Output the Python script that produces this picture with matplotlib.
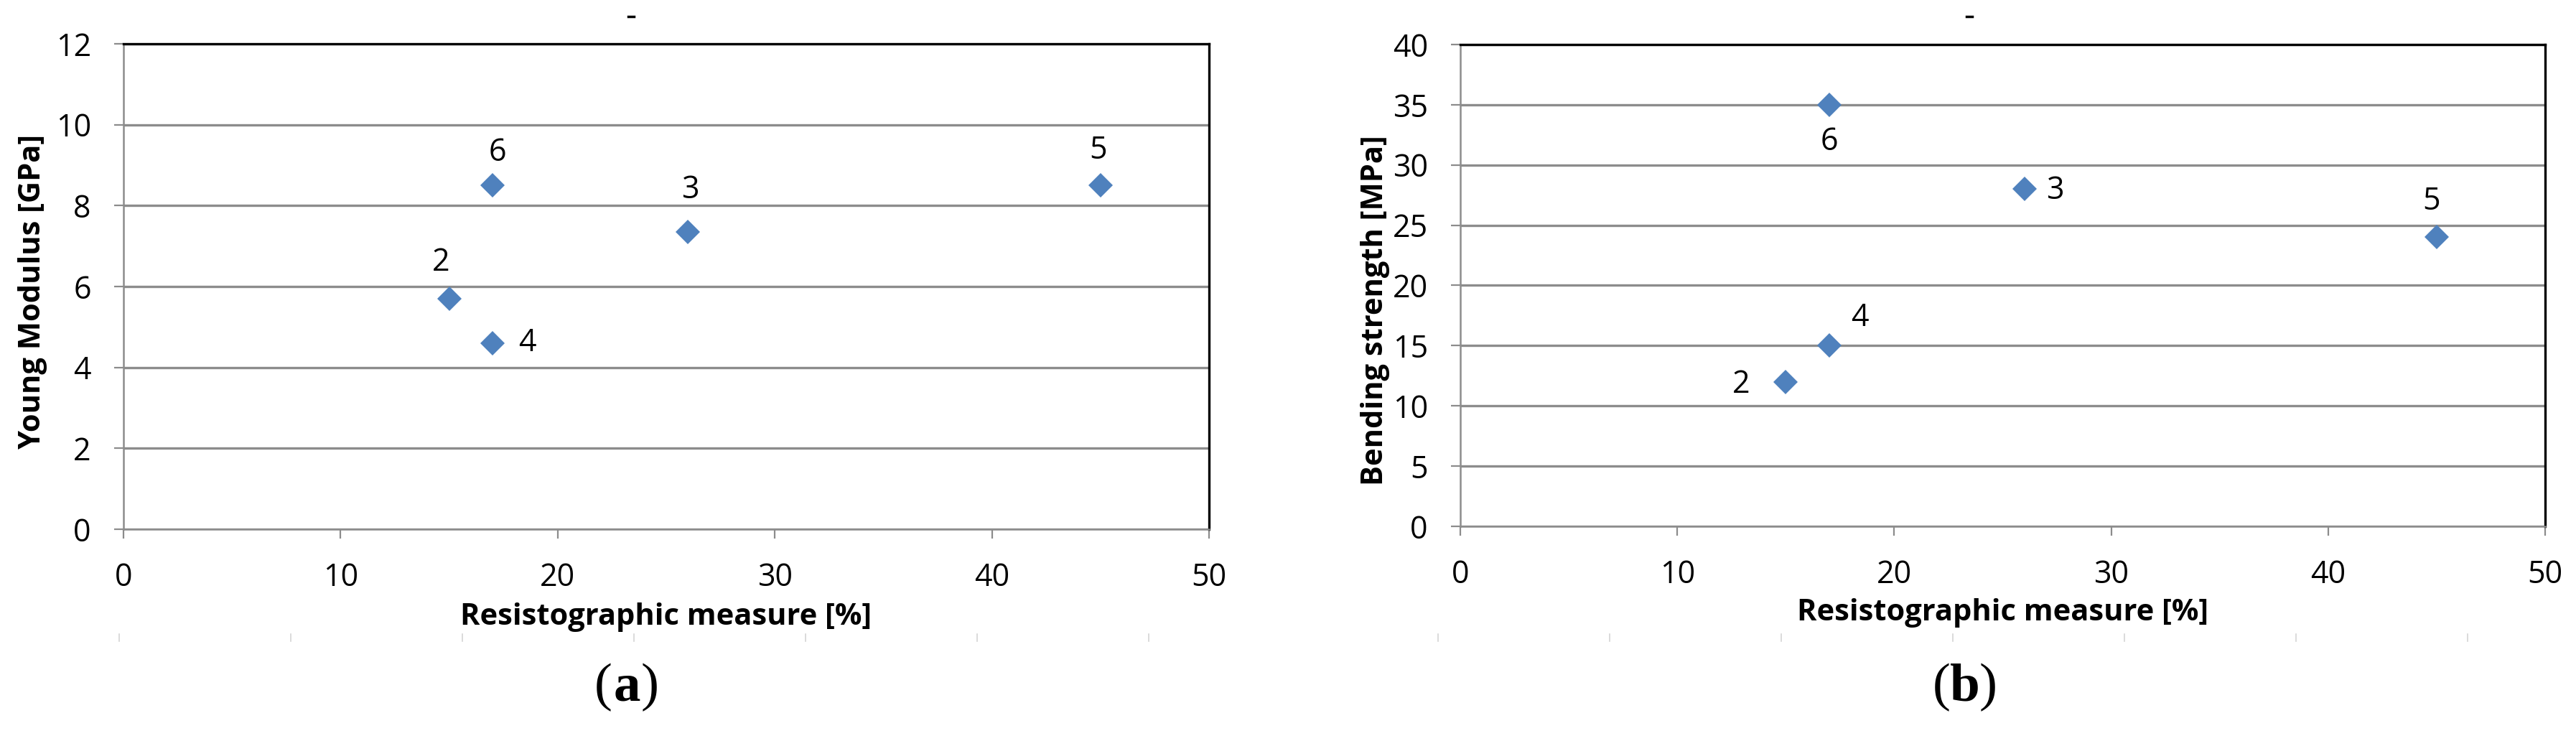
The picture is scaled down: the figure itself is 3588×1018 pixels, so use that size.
import matplotlib
matplotlib.use("Agg")
import matplotlib.pyplot as plt
from matplotlib import font_manager
from matplotlib.lines import Line2D

W, H = 3588, 1018

# specimen data
specimens = ["2", "3", "4", "5", "6"]
resisto = [15, 26, 17, 45, 17]
young = [5.7, 7.35, 4.6, 8.5, 8.5]
bending = [12, 28, 15, 24, 35]

# label offsets (points) per specimen, per panel
offsets_a = {"2": (-8, 36), "3": (2, 42), "4": (35, 0), "5": (-2, 35), "6": (5, 33)}
offsets_b = {"2": (-45, -3), "3": (31, -2), "4": (31, 28), "5": (-5, 36), "6": (0, -37)}

names = {f.name for f in font_manager.fontManager.ttflist}
SANS = "Liberation Sans Narrow" if "Liberation Sans Narrow" in names else "Open Sans"
plt.rcParams["font.family"] = [SANS, "DejaVu Sans"]

BLUE = "#4f81bd"
GRID = "#8c8c8c"


def fx(px):
    return px / W


def fy(py):
    return 1 - py / H


def make_panel(fig, box, y, ymax, ystep, offsets):
    x0, top, x1, bottom = box
    ax = fig.add_axes([fx(x0), fy(bottom), fx(x1 - x0), (bottom - top) / H])
    ax.set_axisbelow(True)
    ax.plot(resisto, y, linestyle="none", marker="D", markersize=17,
            color=BLUE, markeredgewidth=0, zorder=3)
    for name, xv, yv in zip(specimens, resisto, y):
        ax.annotate(name, (xv, yv), xytext=offsets[name], textcoords="offset points",
                    ha="center", va="center", fontsize=31)
    ax.set_xlim(0, 50)
    ax.set_ylim(0, ymax)
    ax.set_xticks(range(0, 51, 10))
    ax.set_yticks(range(0, ymax + 1, ystep))
    ax.yaxis.grid(True, color=GRID, linewidth=2.4)
    ax.tick_params(axis="both", direction="out", length=9.5, width=1.6,
                   color=GRID, labelsize=31, pad=23)
    for side in ("left", "bottom"):
        ax.spines[side].set_color(GRID)
        ax.spines[side].set_linewidth(1.8)
    for side in ("top", "right"):
        ax.spines[side].set_color("black")
        ax.spines[side].set_linewidth(2.4)
    return ax


fig = plt.figure(figsize=(W / 100, H / 100), dpi=100)

make_panel(fig, (172, 61, 1684, 737), young, 12, 2, offsets_a)
make_panel(fig, (2034, 62, 3545, 733), bending, 40, 5, offsets_b)

# axis titles
fig.text(fx(927), fy(860), "Resistographic measure [%]", ha="center", va="center",
         fontsize=30, fontweight="bold")
fig.text(fx(2789), fy(854), "Resistographic measure [%]", ha="center", va="center",
         fontsize=30, fontweight="bold")
fig.text(fx(46), fy(406), "Young Modulus [GPa]", ha="center", va="center",
         rotation=90, fontsize=30, fontweight="bold")
fig.text(fx(1915), fy(432), "Bending strength [MPa]", ha="center", va="center",
         rotation=90, fontsize=30, fontweight="bold")

# panel tags
for cx, letter in ((873, "a"), (2737, "b")):
    serif = ["Liberation Serif", "DejaVu Serif"]
    fig.text(fx(cx - 20), fy(957), "(", ha="right", va="center", fontsize=54, family=serif)
    fig.text(fx(cx), fy(957), letter, ha="center", va="center", fontsize=54,
             family=serif, fontweight="bold")
    fig.text(fx(cx + 20), fy(957), ")", ha="left", va="center", fontsize=54, family=serif)

# faint leftover tick marks and dashes from the source layout
for start in (166, 2003):
    for i in range(7):
        xp = start + i * 239
        fig.add_artist(Line2D([fx(xp), fx(xp)], [fy(883), fy(893)], color="#d4d4d4", lw=1.2))
for xp in (879, 2743):
    fig.add_artist(Line2D([fx(xp - 4), fx(xp + 4)], [fy(23), fy(23)], color="black", lw=2.5))

fig.savefig("out.png", dpi=100)
